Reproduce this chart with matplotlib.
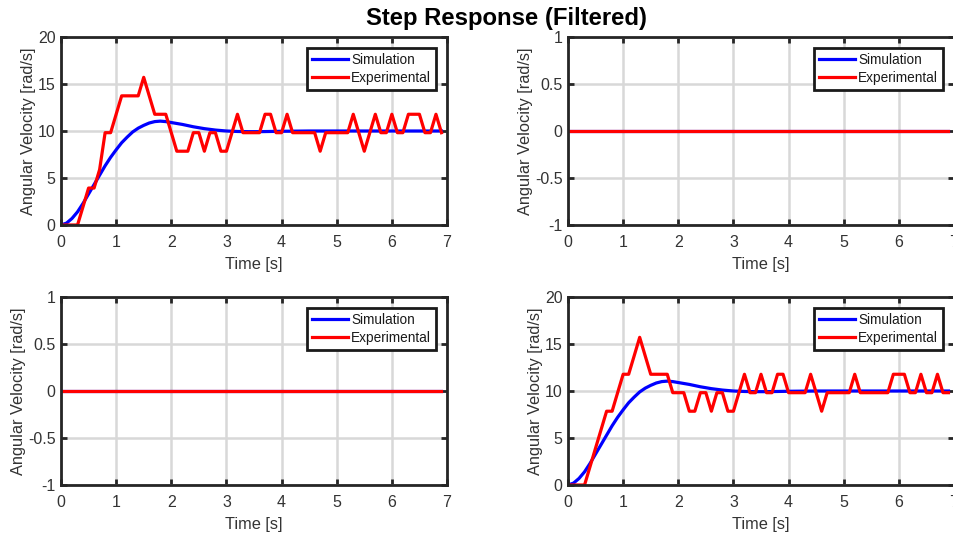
import matplotlib
matplotlib.use("Agg")
import matplotlib.pyplot as plt

plt.rcParams['font.family'] = ['Liberation Sans', 'DejaVu Sans']

# ---- data ----
sim_t = [0, 0.1, 0.2, 0.3, 0.4, 0.5, 0.6, 0.7, 0.8, 0.9, 1.0, 1.1, 1.2, 1.3, 1.4, 1.5,
         1.6, 1.7, 1.8, 1.9, 2.0, 2.2, 2.4, 2.6, 2.8, 3.0, 3.2, 3.4, 3.6, 3.8, 4.0,
         4.5, 5.0, 6.0, 6.9]
sim_v = [0, 0.2, 0.7, 1.4, 2.3, 3.3, 4.3, 5.3, 6.3, 7.2, 8.0, 8.75, 9.35, 9.9, 10.3, 10.6,
         10.85, 11.0, 11.05, 11.0, 10.9, 10.7, 10.45, 10.25, 10.1, 10.0, 9.95, 9.93, 9.93, 9.95, 9.97,
         10.0, 10.0, 10.0, 10.0]

exp_t = [0.0, 0.1, 0.2, 0.3, 0.4, 0.5, 0.6, 0.7, 0.8, 0.9,
         1.0, 1.1, 1.2, 1.3, 1.4, 1.5, 1.6, 1.7, 1.8, 1.9,
         2.0, 2.1, 2.2, 2.3, 2.4, 2.5, 2.6, 2.7, 2.8, 2.9,
         3.0, 3.1, 3.2, 3.3, 3.4, 3.5, 3.6, 3.7, 3.8, 3.9,
         4.0, 4.1, 4.2, 4.3, 4.4, 4.5, 4.6, 4.7, 4.8, 4.9,
         5.0, 5.1, 5.2, 5.3, 5.4, 5.5, 5.6, 5.7, 5.8, 5.9,
         6.0, 6.1, 6.2, 6.3, 6.4, 6.5, 6.6, 6.7, 6.8, 6.9]

# top-left experimental (rad/s)
exp1_v = [0, 0, 0, 0, 1.96, 3.93, 3.93, 5.89, 9.82, 9.82,
          11.78, 13.74, 13.74, 13.74, 13.74, 15.71, 13.74, 11.78, 11.78, 11.78,
          9.82, 7.85, 7.85, 7.85, 9.82, 9.82, 7.85, 9.82, 9.82, 7.85,
          7.85, 9.82, 11.78, 9.82, 9.82, 9.82, 9.82, 11.78, 11.78, 9.82,
          9.82, 11.78, 9.82, 9.82, 9.82, 9.82, 9.82, 7.85, 9.82, 9.82,
          9.82, 9.82, 9.82, 11.78, 9.82, 7.85, 9.82, 11.78, 9.82, 9.82,
          11.78, 9.82, 9.82, 11.78, 11.78, 11.78, 9.82, 9.82, 11.78, 9.82]

# bottom-right experimental (rad/s)
exp4_v = [0, 0, 0, 0, 1.96, 3.93, 5.89, 7.85, 7.85, 9.82,
          11.78, 11.78, 13.74, 15.71, 13.74, 11.78, 11.78, 11.78, 11.78, 9.82,
          9.82, 9.82, 7.85, 7.85, 9.82, 9.82, 7.85, 9.82, 9.82, 7.85,
          7.85, 9.82, 11.78, 9.82, 9.82, 11.78, 9.82, 9.82, 11.78, 11.78,
          9.82, 9.82, 9.82, 9.82, 11.78, 9.82, 7.85, 9.82, 9.82, 9.82,
          9.82, 9.82, 11.78, 9.82, 9.82, 9.82, 9.82, 9.82, 9.82, 11.78,
          11.78, 11.78, 9.82, 9.82, 11.78, 9.82, 9.82, 11.78, 9.82, 9.82]

flat_t = [0, 6.9]
flat_v = [0, 0]

x_ticks = [0, 1, 2, 3, 4, 5, 6, 7]
y_ticks_big = [0, 5, 10, 15, 20]
y_ticks_small = [-1, -0.5, 0, 0.5, 1]
y_ticklabels_small = ['-1', '-0.5', '0', '0.5', '1']

title = "Step Response (Filtered)"
xlab = "Time [s]"
ylab = "Angular Velocity [rad/s]"
legend_labels = ["Simulation", "Experimental"]

# ---- figure ----
fig = plt.figure(figsize=(9.54, 5.33), dpi=100)
W, H = 954, 533

def px_axes(l, t, r, b):
    return fig.add_axes([l / W, 1 - b / H, (r - l) / W, (b - t) / H])

axes = [px_axes(61, 37, 447, 225), px_axes(568, 37, 954, 225),
        px_axes(61, 297, 447, 485), px_axes(568, 297, 954, 485)]

panels = [
    (sim_t, sim_v, exp_t, exp1_v, y_ticks_big, None, (0, 20)),
    (flat_t, flat_v, flat_t, flat_v, y_ticks_small, y_ticklabels_small, (-1, 1)),
    (flat_t, flat_v, flat_t, flat_v, y_ticks_small, y_ticklabels_small, (-1, 1)),
    (sim_t, sim_v, exp_t, exp4_v, y_ticks_big, None, (0, 20)),
]

dark = '#262626'
for ax, (st, sv, et, ev, yt, ytl, ylim) in zip(axes, panels):
    ax.plot(st, sv, color=(0, 0, 1), lw=2.3, label=legend_labels[0], zorder=3)
    ax.plot(et, ev, color=(1, 0, 0), lw=2.3, label=legend_labels[1], zorder=4)
    ax.set_xlim(0, 7)
    ax.set_ylim(*ylim)
    ax.set_xticks(x_ticks)
    ax.set_yticks(yt)
    if ytl is not None:
        ax.set_yticklabels(ytl)
    ax.grid(True, color='#d8d8d8', lw=1.8)
    ax.set_axisbelow(True)
    for s in ax.spines.values():
        s.set_linewidth(2.0)
        s.set_color(dark)
        s.set_zorder(5)
    ax.tick_params(direction='in', top=True, right=True, length=4, width=2,
                   color=dark, labelsize=11.5, labelcolor='#333333')
    ax.tick_params(axis='x', pad=7)
    ax.tick_params(axis='y', pad=4)
    ax.set_xlabel(xlab, fontsize=11.8, color='#333333', labelpad=5)
    ax.set_ylabel(ylab, fontsize=11.8, color='#333333', labelpad=1)
    leg = ax.legend(loc='upper right', fontsize=9.8, frameon=True, fancybox=False,
                    framealpha=1, edgecolor='#1a1a1a', handlelength=2.65,
                    handletextpad=0.22, borderpad=0.36, labelspacing=0.3,
                    borderaxespad=0.82)
    leg.get_frame().set_linewidth(2.0)
    for txt in leg.get_texts():
        txt.set_color('#1a1a1a')
    leg.set_zorder(10)

fig.text(507 / W, 1 - 18 / H, title, ha='center', va='center',
         fontsize=17.2, fontweight='bold', color='black')

fig.savefig('out.png', dpi=100)
